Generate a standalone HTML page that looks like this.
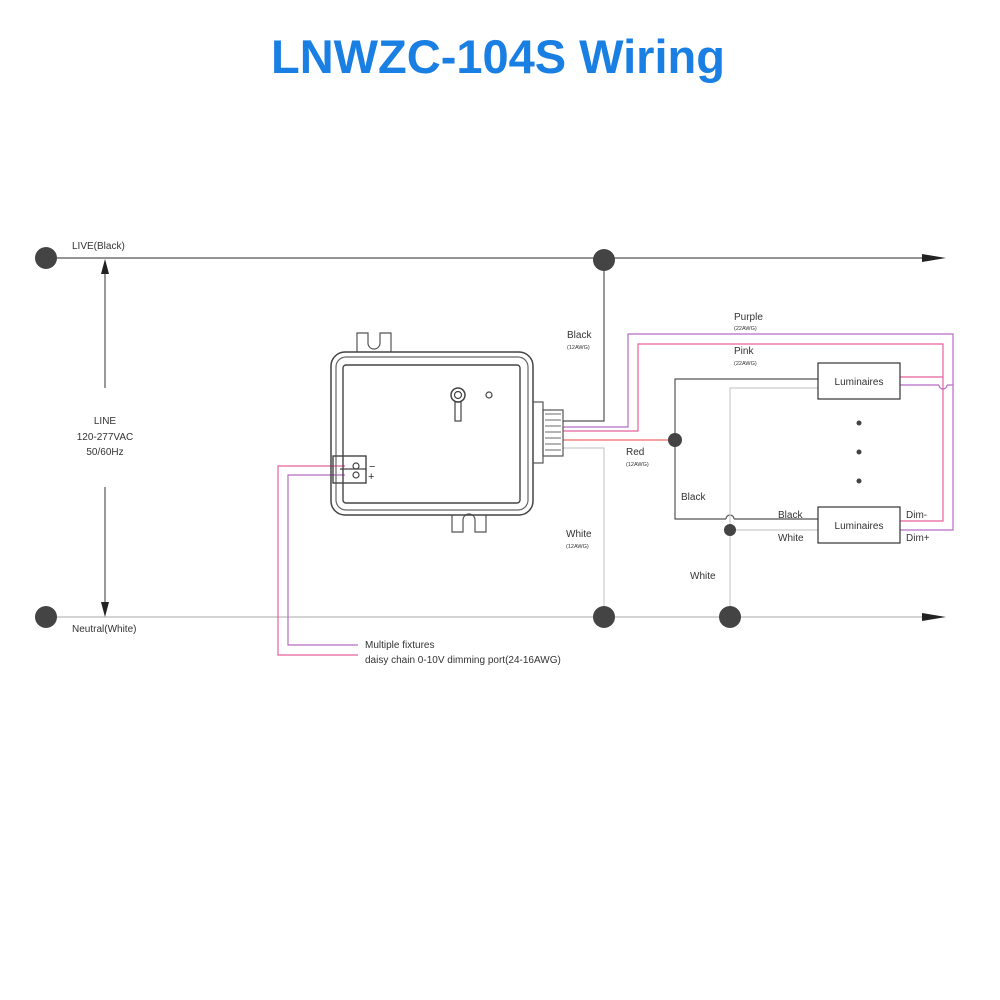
<!DOCTYPE html>
<html><head><meta charset="utf-8"><style>
html,body{margin:0;padding:0;background:#fff;width:1000px;height:1000px;overflow:hidden}
</style></head><body>
<svg width="1000" height="1000" viewBox="0 0 1000 1000" xmlns="http://www.w3.org/2000/svg" font-family="Liberation Sans, sans-serif">
<text x="498" y="73" text-anchor="middle" font-size="47" font-weight="bold" fill="#1a7fe3">LNWZC-104S Wiring</text>
<g fill="none" stroke-width="1.2">
<!-- live / neutral -->
<line x1="46" y1="258" x2="930" y2="258" stroke="#555"/>
<polygon points="922,254 946,258 922,262" fill="#222" stroke="none"/>
<line x1="46" y1="617" x2="930" y2="617" stroke="#bbb"/>
<polygon points="922,613 946,617 922,621" fill="#222" stroke="none"/>
<line x1="105" y1="268" x2="105" y2="388" stroke="#555"/>
<polygon points="101,274 105,259 109,274" fill="#222" stroke="none"/>
<line x1="105" y1="487" x2="105" y2="607" stroke="#555"/>
<polygon points="101,602 105,617 109,602" fill="#222" stroke="none"/>
<!-- black from live -->
<polyline points="604,258 604,421 563,421" stroke="#555"/>
<!-- purple -->
<polyline points="563,427 628,427 628,334 953,334 953,530 900,530" stroke="#b86cc4"/>
<!-- pink -->
<polyline points="563,431 638,431 638,344 943,344 943,521 900,521" stroke="#e8609c"/>
<!-- red -->
<line x1="563" y1="440" x2="675" y2="440" stroke="#f06a6a"/>
<!-- white -->
<polyline points="563,448 604,448 604,617" stroke="#ccc"/>
<!-- right black -->
<polyline points="818,379 675,379 675,519 726,519" stroke="#555"/>
<path d="M726,519 A4,4 0 0 1 734,519" stroke="#555"/>
<line x1="734" y1="519" x2="818" y2="519" stroke="#555"/>
<polyline points="818,388 730,388 730,617" stroke="#ccc"/>
<line x1="730" y1="530" x2="818" y2="530" stroke="#ccc"/>
<line x1="900" y1="377" x2="943" y2="377" stroke="#e8609c"/>
<polyline points="900,385 939,385" stroke="#b86cc4"/>
<path d="M939,385 A4,4 0 0 0 947,385" stroke="#b86cc4"/>
<line x1="947" y1="385" x2="953" y2="385" stroke="#b86cc4"/>
<!-- daisy chain -->
<polyline points="345,466 278,466 278,655 358,655" stroke="#e8609c"/>
<polyline points="345,475 288,475 288,645 358,645" stroke="#b86cc4"/>
<!-- luminaires -->
<rect x="818" y="363" width="82" height="36" stroke="#333"/>
<rect x="818" y="507" width="82" height="36" stroke="#333"/>
<!-- device -->
<path d="M357,352 V333 H368 V343 a6,6 0 0 0 12,0 V333 H391 V352" stroke="#555"/>
<path d="M452,515 V532 H463 V520 a6,6 0 0 1 12,0 V532 H486 V515" stroke="#555"/>
<rect x="331" y="352" width="202" height="163" rx="14" stroke="#444" stroke-width="1.5"/>
<rect x="336" y="357" width="192" height="153" rx="10" stroke="#666"/>
<rect x="343" y="365" width="177" height="138" rx="3" stroke="#444" stroke-width="1.4"/>
<rect x="333" y="456" width="33" height="27" stroke="#444" stroke-width="1.4"/>
<line x1="340" y1="469" x2="366" y2="469" stroke="#444"/>
<circle cx="356" cy="466" r="3" stroke="#444"/>
<circle cx="356" cy="475" r="3" stroke="#444"/>
<circle cx="458" cy="395" r="7" stroke="#444" stroke-width="1.5"/>
<circle cx="458" cy="395" r="3.5" stroke="#444"/>
<rect x="455" y="402" width="6" height="19" stroke="#444"/>
<circle cx="489" cy="395" r="3" stroke="#444"/>
<rect x="533" y="402" width="10" height="61" stroke="#555"/>
<rect x="543" y="410" width="20" height="46" stroke="#555"/>
<path d="M545,414 h16 M545,420 h16 M545,426 h16 M545,432 h16 M545,438 h16 M545,444 h16 M545,450 h16" stroke="#888"/>
</g>
<g fill="#444">
<circle cx="46" cy="258" r="11"/><circle cx="604" cy="260" r="11"/>
<circle cx="46" cy="617" r="11"/><circle cx="604" cy="617" r="11"/><circle cx="730" cy="617" r="11"/>
<circle cx="675" cy="440" r="7"/><circle cx="730" cy="530" r="6"/>
<circle cx="859" cy="423" r="2.5"/><circle cx="859" cy="452" r="2.5"/><circle cx="859" cy="481" r="2.5"/>
</g>
<g font-size="10" fill="#333">
<text x="72" y="249">LIVE(Black)</text>
<text x="72" y="632">Neutral(White)</text>
<text x="105" y="424" text-anchor="middle">LINE</text>
<text x="105" y="440" text-anchor="middle">120-277VAC</text>
<text x="105" y="455" text-anchor="middle">50/60Hz</text>
<text x="567" y="338">Black</text><text x="567" y="349" font-size="5.5">(12AWG)</text>
<text x="626" y="455">Red</text><text x="626" y="466" font-size="5.5">(12AWG)</text>
<text x="566" y="537">White</text><text x="566" y="548" font-size="5.5">(12AWG)</text>
<text x="734" y="320">Purple</text><text x="734" y="330" font-size="5.5">(22AWG)</text>
<text x="734" y="354">Pink</text><text x="734" y="365" font-size="5.5">(22AWG)</text>
<text x="681" y="500">Black</text>
<text x="778" y="518">Black</text>
<text x="778" y="541">White</text>
<text x="690" y="579">White</text>
<text x="906" y="518">Dim-</text>
<text x="906" y="541">Dim+</text>
<text x="859" y="385" text-anchor="middle">Luminaires</text>
<text x="859" y="529" text-anchor="middle">Luminaires</text>
<text x="365" y="648">Multiple fixtures</text>
<text x="365" y="663">daisy chain 0-10V dimming port(24-16AWG)</text>
<text x="369" y="470" font-size="11">−</text>
<text x="368" y="480" font-size="11">+</text>
</g>
</svg>
</body></html>
